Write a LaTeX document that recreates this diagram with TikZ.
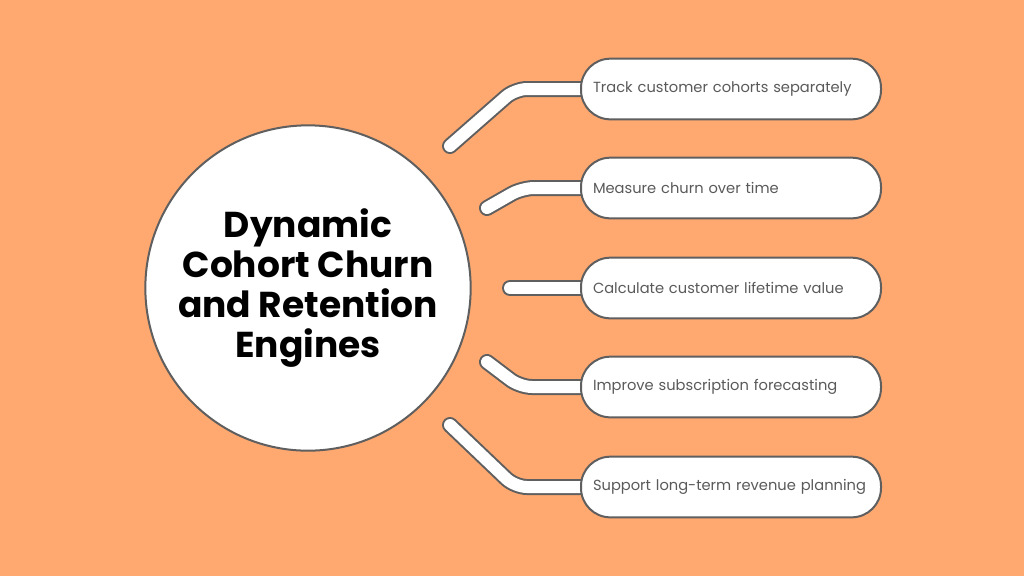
\documentclass[tikz,border=0pt]{standalone}
\usepackage{fontspec}
\setmainfont{Poppins}

\pgfdeclarelayer{fond}
\pgfdeclarelayer{liens}
\pgfsetlayers{fond,liens,main}

\definecolor{orangefond}{HTML}{FFA970}
\definecolor{bord}{HTML}{5F5F5F}
\definecolor{texte}{HTML}{5A5A5A}

\tikzset{
  boite/.style={draw=bord, line width=1.5pt, fill=white, rounded corners=22pt,
    minimum height=45.5pt, text width=207pt, inner xsep=9pt, align=left,
    anchor=west, text=texte, font=\fontsize{11}{13}\selectfont},
  tube/.style={draw=bord, line width=1.5pt, double=white, double distance=9pt,
    line cap=round, rounded corners=9pt}
}

\begin{document}
\begin{tikzpicture}[x=0.75pt,y=-0.75pt]

% Fond
\begin{pgfonlayer}{fond}
\fill[orangefond] (0,0) rectangle (1024,576);
\end{pgfonlayer}
\useasboundingbox (0,0) rectangle (1024,576);

% Noeuds
\node[circle, draw=bord, line width=1.5pt, fill=white, minimum size=244pt,
  inner sep=0pt, align=center, font=\bfseries\fontsize{27}{30}\selectfont]
  (hub) at (308,288) {Dynamic\\Cohort Churn\\and Retention\\Engines};

\node[boite] (b1) at (580,89) {Track customer cohorts separately};
\node[boite] (b2) at (580,188) {Measure churn over time};
\node[boite] (b3) at (580,288) {Calculate customer lifetime value};
\node[boite] (b4) at (580,387) {Improve subscription forecasting};
\node[boite] (b5) at (580,487) {Support long-term revenue planning};

\coordinate (s1) at (450,146);
\coordinate (s2) at (487,208);
\coordinate (s3) at (510,288);
\coordinate (s4) at (487,362);
\coordinate (s5) at (450,425);

% Liens
\begin{pgfonlayer}{liens}
\draw[tube] (s1) -- (515,89) -- (b1.west);
\draw[tube] (s2) -- (522,188) -- (b2.west);
\draw[tube] (s3) -- (b3.west);
\draw[tube] (s4) -- (520,387) -- (b4.west);
\draw[tube] (s5) -- (515,487) -- (b5.west);
\end{pgfonlayer}

\end{tikzpicture}
\end{document}
